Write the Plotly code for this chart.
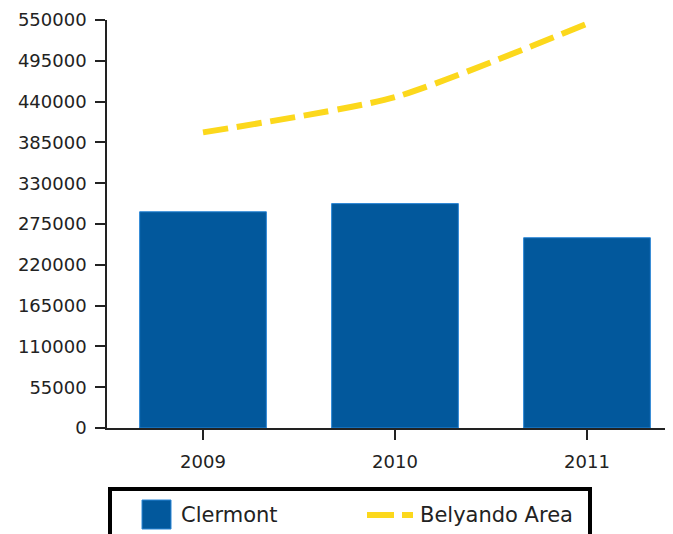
import plotly.graph_objects as go

years = ["2009", "2010", "2011"]
clermont = [291500, 302500, 256500]
belyando = [398500, 446000, 545000]
y_ticks = [0, 55000, 110000, 165000, 220000, 275000, 330000, 385000, 440000, 495000, 550000]

BAR_COLOR = "#02589c"
LINE_COLOR = "#fcd81c"
TEXT_COLOR = "#222222"
FONT = "DejaVu Sans, Verdana, sans-serif"

# The page shows the figure offset by the default 8px body margin.
OFF = 8
W, H = 673, 534
# plot area in screen pixels: x 107..(681, clipped), y 20..428
L, T = 107 - OFF, 20 - OFF
R = 0
B = H - (428 - OFF)
PW, PH = W - L - R, H - T - B
CAT_PX = 192  # pixels per category
X_END = -0.5 + PW / CAT_PX


def px(x):  # screen x -> paper
    return (x - OFF - L) / PW


def py(y):  # screen y -> paper
    return (H - B - (y - OFF)) / PH


fig = go.Figure()
fig.add_trace(go.Bar(
    x=years, y=clermont, name="Clermont",
    marker=dict(color=BAR_COLOR, line=dict(color="#2b86d6", width=1)),
    width=0.66,
))
fig.add_trace(go.Scatter(
    x=years, y=belyando, name="Belyando Area", mode="lines",
    line=dict(color=LINE_COLOR, width=6, dash="25px,9px", shape="spline", smoothing=0.6),
))

shapes = [
    dict(type="rect", xref="paper", yref="paper",
         x0=px(110), x1=px(590), y0=py(489), y1=py(560),
         line=dict(color="black", width=4), fillcolor="white", layer="above"),
    dict(type="rect", xref="paper", yref="paper",
         x0=px(142), x1=px(171), y0=py(500), y1=py(529),
         line=dict(color="#2b86d6", width=1), fillcolor=BAR_COLOR, layer="above"),
    dict(type="line", xref="paper", yref="paper",
         x0=px(367), x1=px(413), y0=py(515), y1=py(515),
         line=dict(color=LINE_COLOR, width=6, dash="27px,8px"), layer="above"),
]
annotations = [
    dict(text="Clermont", xref="paper", yref="paper", x=px(179), y=py(515),
         xanchor="left", yanchor="middle", showarrow=False,
         font=dict(family=FONT, size=21, color=TEXT_COLOR)),
    dict(text="Belyando Area", xref="paper", yref="paper", x=px(418), y=py(515),
         xanchor="left", yanchor="middle", showarrow=False,
         font=dict(family=FONT, size=21, color=TEXT_COLOR)),
]

fig.update_layout(
    width=W, height=H,
    margin=dict(l=L, r=R, t=T, b=B, autoexpand=False),
    paper_bgcolor="white", plot_bgcolor="white",
    font=dict(family=FONT, size=18, color=TEXT_COLOR),
    showlegend=False,
    bargap=0.34,
    shapes=shapes,
    annotations=annotations,
)
fig.update_xaxes(
    type="category", range=[-0.5, X_END], automargin=False,
    showline=True, linecolor="#222222", linewidth=1.5,
    ticks="outside", ticklen=10, tickcolor="#222222", tickwidth=1.5,
    ticklabelstandoff=7,
    showgrid=False, tickfont=dict(size=18),
)
fig.update_yaxes(
    range=[0, 550000], tickvals=y_ticks, ticktext=[str(v) for v in y_ticks],
    automargin=False,
    showline=True, linecolor="#222222", linewidth=1.5,
    ticks="outside", ticklen=10, tickcolor="#222222", tickwidth=1.5,
    ticklabelstandoff=5,
    showgrid=False, zeroline=False, tickfont=dict(size=18),
)

fig.write_html("out.html")
